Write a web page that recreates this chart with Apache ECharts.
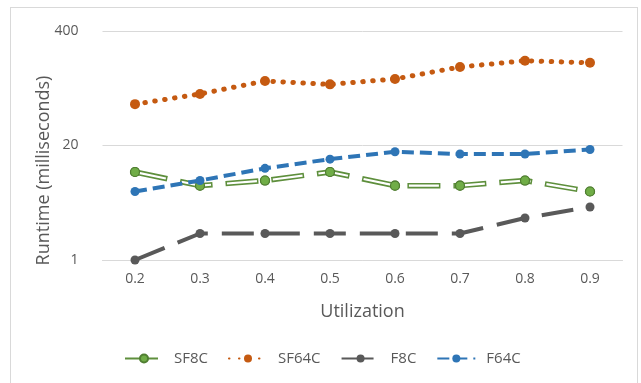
<!DOCTYPE html>
<html>
<head>
<meta charset="utf-8">
<script src="https://cdn.jsdelivr.net/npm/echarts@6/dist/echarts.min.js"></script>
<style>
html,body{margin:0;padding:0;background:#fff;overflow:hidden;}
#frame{position:absolute;left:10px;top:7px;width:628px;height:420px;border:1px solid #D9D9D9;box-sizing:border-box;}
#main{position:absolute;left:0;top:0;width:641px;height:383px;}
</style>
</head>
<body>
<div id="frame"></div>
<div id="main"></div>
<script>
const categories = ['0.2','0.3','0.4','0.5','0.6','0.7','0.8','0.9'];
const sf8c  = [10, 7, 8, 10, 7, 7, 8, 6];
const sf64c = [59, 77, 108, 99, 114, 156, 184, 174];
const f8c   = [1, 2, 2, 2, 2, 2, 3, 4];
const f64c  = [6, 8, 11, 14, 17, 16, 16, 18];
const yMin = 1, yMax = 400;
const legendNames = ['SF8C','SF64C','F8C','F64C'];

const FONT = 'Open Sans';
const chart = echarts.init(document.getElementById('main'), null, {renderer:'canvas'});
chart.setOption({
  backgroundColor: 'transparent',
  animation: false,
  grid: {left: 102.5, right: 18.5, top: 31, bottom: 123},
  legend: {
    data: legendNames,
    left: 119, top: 346,
    itemWidth: 38, itemHeight: 10, itemGap: 20,
    textStyle: {fontFamily: FONT, fontSize: 15, color: '#595959', padding: [0,0,0,6]}
  },
  xAxis: {
    type: 'category', data: categories, boundaryGap: true,
    name: 'Utilization', nameLocation: 'middle', nameGap: 43, nameMoveOverlap: false,
    nameTextStyle: {fontFamily: FONT, fontSize: 18, color: '#595959'},
    axisLine: {show: true, lineStyle: {color: '#D9D9D9', width: 1}},
    axisTick: {show: false},
    axisLabel: {fontFamily: FONT, fontSize: 14, color: '#595959', margin: 12}
  },
  yAxis: {
    type: 'log', logBase: 20, min: yMin, max: yMax,
    name: 'Runtime (milliseconds)', nameLocation: 'middle', nameGap: 50, nameMoveOverlap: false,
    nameTextStyle: {fontFamily: FONT, fontSize: 18, color: '#595959', padding: [0,50,0,0]},
    axisLine: {show: false}, axisTick: {show: false},
    axisLabel: {fontFamily: FONT, fontSize: 14, color: '#595959', margin: 24},
    splitLine: {lineStyle: {color: '#D9D9D9', width: 1}}
  },
  series: [
    {
      name: 'SF8C', type: 'line', data: sf8c, z: 2,
      symbol: 'circle', symbolSize: 9, showSymbol: true,
      itemStyle: {color: '#70AD47', borderColor: '#507E32', borderWidth: 1.2},
      lineStyle: {color: '#5E8F3C', width: 5.5, type: [33, 13]}
    },
    {
      name: 'SF8C_inner', type: 'line', data: sf8c, z: 3,
      symbol: 'circle', symbolSize: 9, showSymbol: true,
      itemStyle: {color: '#70AD47', borderColor: '#507E32', borderWidth: 1.2},
      lineStyle: {color: '#ffffff', width: 2.2, type: [30, 16], dashOffset: -1.5}
    },
    {
      name: 'SF64C', type: 'line', data: sf64c, z: 4,
      symbol: 'circle', symbolSize: 10,
      itemStyle: {color: '#C55A11'},
      lineStyle: {color: '#C55A11', width: 5, type: [0.5, 9.5], cap: 'round'}
    },
    {
      name: 'F8C', type: 'line', data: f8c, z: 4,
      symbol: 'circle', symbolSize: 9,
      itemStyle: {color: '#595959'},
      lineStyle: {color: '#595959', width: 4, type: [32, 14]}
    },
    {
      name: 'F64C', type: 'line', data: f64c, z: 5,
      symbol: 'circle', symbolSize: 9,
      itemStyle: {color: '#2E75B6'},
      lineStyle: {color: '#2E75B6', width: 4, type: [12, 6]}
    }
  ]
});
</script>
</body>
</html>
